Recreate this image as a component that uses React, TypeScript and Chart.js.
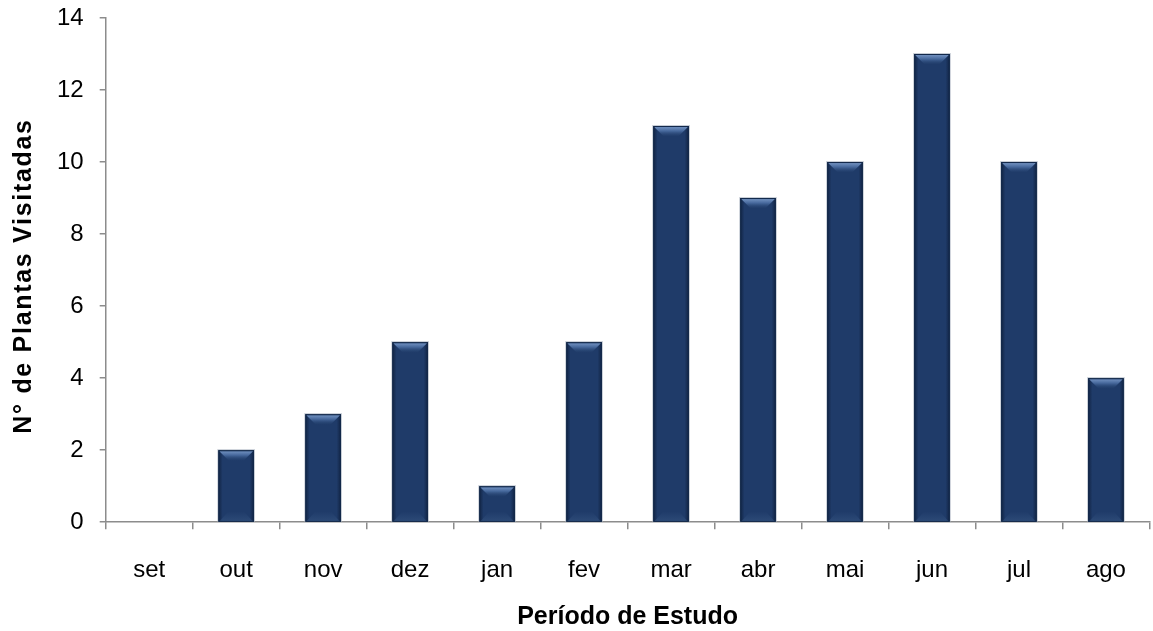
import React, { useEffect, useRef } from "react";
import { Chart, registerables } from "chart.js";

Chart.register(...registerables);

const months = ["set", "out", "nov", "dez", "jan", "fev", "mar", "abr", "mai", "jun", "jul", "ago"];
const plantasVisitadas = [0, 2, 3, 5, 1, 5, 11, 9, 10, 13, 10, 4];
const yTitle = "N° de Plantas Visitadas";
const xTitle = "Período de Estudo";

const FONT = "'Liberation Sans', Arial, sans-serif";

const bevelPlugin = {
  id: "bevel",
  afterDatasetsDraw(chart: any) {
    const ctx = chart.ctx;
    const meta = chart.getDatasetMeta(0);
    meta.data.forEach((bar: any, i: number) => {
      if (!plantasVisitadas[i]) return;
      const { x, y, base, width } = bar.getProps(["x", "y", "base", "width"], true);
      const l = x - width / 2;
      const r = x + width / 2;
      const h = base - y;
      ctx.save();
      ctx.strokeStyle = "rgba(160,170,185,0.6)";
      ctx.lineWidth = 1;
      ctx.strokeRect(l - 0.5, y - 0.5, width + 1, h + 0.5);
      const g = ctx.createLinearGradient(l, 0, r, 0);
      g.addColorStop(0, "rgba(8,20,42,0.6)");
      g.addColorStop(0.12, "rgba(8,20,42,0)");
      g.addColorStop(0.88, "rgba(8,20,42,0)");
      g.addColorStop(1, "rgba(8,20,42,0.6)");
      ctx.fillStyle = g;
      ctx.fillRect(l, y, width, h);
      const bv = Math.min(10, h / 2);
      const tg = ctx.createLinearGradient(0, y, 0, y + bv);
      tg.addColorStop(0, "#7c9bc9");
      tg.addColorStop(0.5, "#46689c");
      tg.addColorStop(1, "rgba(40,70,115,0.2)");
      ctx.fillStyle = tg;
      ctx.beginPath();
      ctx.moveTo(l + 1, y + 1);
      ctx.lineTo(r - 1, y + 1);
      ctx.lineTo(r - bv, y + bv);
      ctx.lineTo(l + bv, y + bv);
      ctx.closePath();
      ctx.fill();
      const bg = ctx.createLinearGradient(0, base - bv, 0, base);
      bg.addColorStop(0, "rgba(50,80,125,0)");
      bg.addColorStop(1, "rgba(50,80,125,0.7)");
      ctx.fillStyle = bg;
      ctx.beginPath();
      ctx.moveTo(l + bv, base - bv);
      ctx.lineTo(r - bv, base - bv);
      ctx.lineTo(r - 1, base);
      ctx.lineTo(l + 1, base);
      ctx.closePath();
      ctx.fill();
      ctx.strokeStyle = "#13294a";
      ctx.lineWidth = 1;
      ctx.strokeRect(l + 0.5, y + 0.5, width - 1, h - 0.5);
      ctx.restore();
    });
  },
};

const titlesPlugin = {
  id: "titles",
  afterDraw(chart: any) {
    const ctx = chart.ctx;
    const area = chart.chartArea;
    ctx.save();
    ctx.fillStyle = "#000";
    ctx.textAlign = "center";
    ctx.textBaseline = "middle";
    ctx.font = `bold 25px ${FONT}`;
    (ctx as any).letterSpacing = "0px";
    ctx.fillText(xTitle, (area.left + area.right) / 2, 617);
    ctx.translate(24, 276);
    ctx.rotate(-Math.PI / 2);
    (ctx as any).letterSpacing = "1.7px";
    ctx.fillText(yTitle, 0, 0);
    ctx.restore();
  },
};

export default function App() {
  const ref = useRef<HTMLCanvasElement>(null);
  useEffect(() => {
    if (!ref.current) return;
    const chart = new Chart(ref.current, {
      type: "bar",
      data: {
        labels: months,
        datasets: [
          {
            data: plantasVisitadas,
            backgroundColor: "#1f3b69",
            borderWidth: 0,
            barPercentage: 0.41,
            categoryPercentage: 1,
          },
        ],
      },
      options: {
        animation: false,
        responsive: false,
        maintainAspectRatio: false,
        layout: { padding: { left: 41, right: 1, top: 18, bottom: 19 } },
        plugins: { legend: { display: false }, tooltip: { enabled: false } },
        scales: {
          x: {
            offset: true,
            grid: {
              offset: true,
              drawOnChartArea: false,
              drawTicks: true,
              tickLength: 7,
              color: "#8c8c8c",
              lineWidth: 1.5,
            },
            border: { color: "#8c8c8c", width: 1.5 },
            ticks: { color: "#000", font: { family: FONT, size: 24 }, padding: 27 },
          },
          y: {
            min: 0,
            max: 14,
            afterFit(scale: any) {
              scale.paddingTop = 0;
              scale.paddingBottom = 0;
            },
            grid: {
              drawOnChartArea: false,
              drawTicks: true,
              tickLength: 6,
              color: "#8c8c8c",
              lineWidth: 1.5,
            },
            border: { color: "#8c8c8c", width: 1.5 },
            ticks: { stepSize: 2, color: "#000", font: { family: FONT, size: 24 }, padding: 16 },
          },
        },
      },
      plugins: [bevelPlugin, titlesPlugin],
    });
    return () => chart.destroy();
  }, []);
  return (
    <div style={{ position: "absolute", left: 0, top: 0, width: 1153, height: 631, background: "#fff" }}>
      <canvas ref={ref} width={1153} height={631} />
    </div>
  );
}
